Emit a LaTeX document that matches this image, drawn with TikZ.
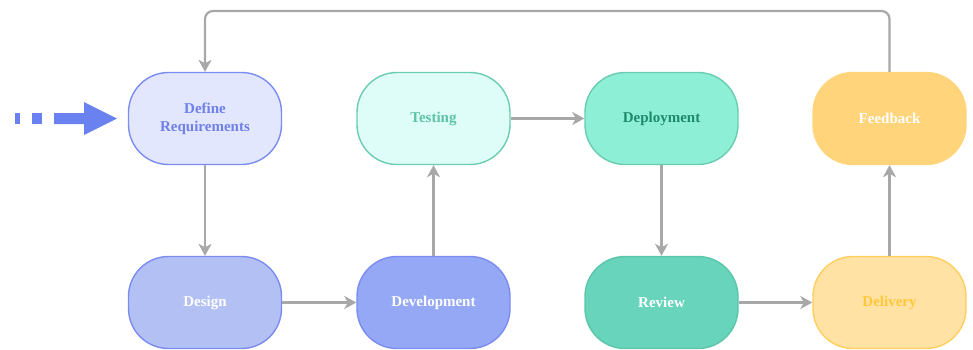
\documentclass[tikz,border=0pt]{standalone}
\usepackage{fontspec}
\setmainfont{Liberation Serif}[BoldFont={Liberation Serif Bold}]
\newfontfamily\stagefont{Liberation Serif}[BoldFont={Liberation Serif Bold}]
\usetikzlibrary{arrows.meta}

\definecolor{bluebd}{HTML}{7B8CF0}
\definecolor{greenbd}{HTML}{6ACCB0}
\definecolor{yellowbd}{HTML}{FFCE5C}
\definecolor{linkgray}{HTML}{A8A8A8}
\definecolor{entryblue}{HTML}{6A82F0}

\definecolor{reqfill}{HTML}{E3E7FD}
\definecolor{reqtext}{HTML}{6F80E8}
\definecolor{testfill}{HTML}{DEFDF8}
\definecolor{testtext}{HTML}{5CC4A4}
\definecolor{depfill}{HTML}{8EEFD7}
\definecolor{deptext}{HTML}{1F8A6B}
\definecolor{feedfill}{HTML}{FFD47A}
\definecolor{desfill}{HTML}{B3C0F4}
\definecolor{devfill}{HTML}{95A8F6}
\definecolor{revfill}{HTML}{67D4BB}
\definecolor{revbd}{HTML}{5CC6AA}
\definecolor{delfill}{HTML}{FFE2A4}
\definecolor{deltext}{HTML}{FFC83A}

\tikzset{
  stage/.style={rectangle, rounded corners=40pt, minimum width=153pt,
    minimum height=92pt, line width=1.4pt, align=center,
    font=\stagefont\fontsize{15}{18}\selectfont\bfseries},
  link/.style={draw=linkgray, line width=2.2pt,
    -{Stealth[length=12pt, width=13pt, inset=3.5pt]}},
}

\begin{document}
\begin{tikzpicture}[x=1pt, y=-1pt]
  \useasboundingbox (0,0) rectangle (973,349);

  % upper row
  \node[stage, draw=bluebd, fill=reqfill, text=reqtext] (req) at (205,118.5) {Define\\Requirements};
  \node[stage, draw=greenbd, fill=testfill, text=testtext] (test) at (433.5,118.5) {Testing};
  \node[stage, draw=greenbd, fill=depfill, text=deptext] (deploy) at (661.5,118.5) {Deployment};
  \node[stage, draw=feedfill, fill=feedfill, text=white] (feed) at (889.5,118.5) {Feedback};

  % lower row
  \node[stage, draw=bluebd, fill=desfill, text=white] (design) at (205,302.5) {Design};
  \node[stage, draw=bluebd, fill=devfill, text=white] (dev) at (433.5,302.5) {Development};
  \node[stage, draw=revbd, fill=revfill, text=white] (review) at (661.5,302.5) {Review};
  \node[stage, draw=yellowbd, fill=delfill, text=deltext] (deliv) at (889.5,302.5) {Delivery};

  % process flow
  \draw[link] (req.south) -- (design.north);
  \draw[link] (design.east) -- (dev.west);
  \draw[link] (dev.north) -- (test.south);
  \draw[link] (test.east) -- (deploy.west);
  \draw[link] (deploy.south) -- (review.north);
  \draw[link] (review.east) -- (deliv.west);
  \draw[link] (deliv.north) -- (feed.south);

  % feedback loop back to the start
  \coordinate (loopR) at (889.5,11);
  \coordinate (loopL) at (205,11);
  \draw[link, rounded corners=8pt] (feed.north) -- (loopR) -- (loopL) -- (req.north);

  % entry marker
  \fill[entryblue] (15,113) rectangle (20,124);
  \fill[entryblue] (32,113) rectangle (42,124);
  \fill[entryblue] (54,113) -- (84,113) -- (84,102) -- (117,118.5)
    -- (84,135) -- (84,124) -- (54,124) -- cycle;
\end{tikzpicture}
\end{document}
